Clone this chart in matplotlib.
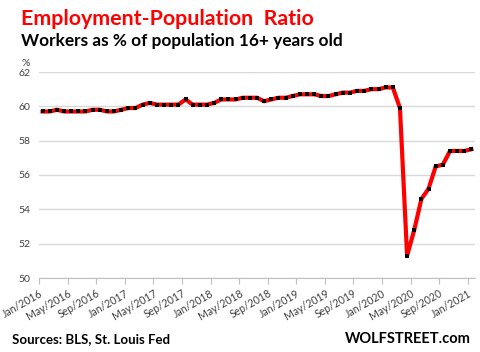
import matplotlib
matplotlib.use("Agg")
import matplotlib.pyplot as plt

# monthly employment-population ratio, Jan 2016 .. Jan 2021
months = ["Jan/2016", "May/2016", "Sep/2016", "Jan/2017", "May/2017", "Sep/2017",
          "Jan/2018", "May/2018", "Sep/2018", "Jan/2019", "May/2019", "Sep/2019",
          "Jan/2020", "May/2020", "Sep/2020", "Jan/2021"]
ratio = [59.7, 59.7, 59.8, 59.7, 59.7, 59.7, 59.7, 59.8, 59.8, 59.7, 59.7, 59.8,
         59.9, 59.9, 60.1, 60.2, 60.1, 60.1, 60.1, 60.1, 60.4, 60.1, 60.1, 60.1,
         60.2, 60.4, 60.4, 60.4, 60.5, 60.5, 60.5, 60.3, 60.4, 60.5, 60.5, 60.6,
         60.7, 60.7, 60.7, 60.6, 60.6, 60.7, 60.8, 60.8, 60.9, 60.9, 61.0, 61.0,
         61.1, 61.1, 59.9, 51.3, 52.8, 54.6, 55.2, 56.5, 56.6, 57.4, 57.4, 57.4,
         57.5]
yticks = [50, 52, 54, 56, 58, 60, 62]

plt.rcParams['font.family'] = ['Lato', 'DejaVu Sans']

fig = plt.figure(figsize=(4.8, 3.52), dpi=100)
ax = fig.add_axes([39/480, 1-278/352, 436/480, 206/352])

x = list(range(len(ratio)))
ax.plot(x, ratio, color="#ff0000", lw=3.0, solid_joinstyle="miter", zorder=3)
ax.plot(x, ratio, ls="none", marker="s", ms=2.5, mew=0, color="black", zorder=4)

ax.set_xlim(-0.5, len(ratio) - 0.5)
ax.set_ylim(50, 62)
ax.set_yticks(yticks)
ax.set_yticklabels([str(v) for v in yticks], fontsize=7.5, color="#404040")
ax.yaxis.grid(True, color="#d9d9d9", lw=1)
ax.set_axisbelow(True)
ax.tick_params(axis="y", length=0, pad=6)

ax.set_xticks([-0.5 + 4*i for i in range(len(months))])
ax.set_xticklabels(months, rotation=30, ha="right", rotation_mode="anchor",
                   fontsize=7.6, color="#404040")
ax.tick_params(axis="x", length=4, color="#bfbfbf", pad=3)

for s in ["top", "right", "left"]:
    ax.spines[s].set_visible(False)
ax.spines["bottom"].set_color("#bfbfbf")

fig.text(21/480, 1-9/352, "Employment-Population  Ratio", color="#ff0000",
         fontsize=15.4, fontweight="bold", va="top")
fig.text(21/480, 1-33/352, "Workers as % of population 16+ years old", color="black",
         fontsize=12.4, fontweight="bold", va="top")
fig.text(21/480, 1-68/352, "%", fontsize=7.5, color="#404040", va="bottom")
fig.text(12/480, 1-343/352, "Sources: BLS, St. Louis Fed", fontsize=9.5,
         fontweight="bold", va="baseline")
fig.text(471/480, 1-343/352, "WOLFSTREET.com", fontsize=10.5,
         fontweight="bold", ha="right", va="baseline")

fig.savefig("out.png", dpi=100)
